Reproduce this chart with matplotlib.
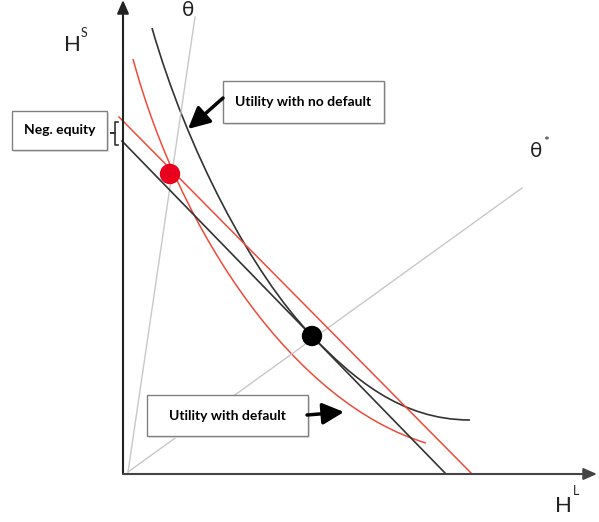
import matplotlib
matplotlib.use("Agg")
import matplotlib.pyplot as plt
from matplotlib.path import Path
import matplotlib.patches as mpatches

plt.rcParams['font.family'] = ['Lato', 'DejaVu Sans']

# diagram drawn in pixel units of the original picture (y grows downward)
axis_origin = (123, 474)
y_axis_top = (123, 0)
x_axis_end = (597, 474)

theta_ray = ([128, 195], [472, 17])
theta_star_ray = ([128, 522], [472, 188])

budget_no_default = ([122, 446], [141, 474])
budget_default = ([119, 472], [117, 474])

# cubic bezier control points of the two indifference curves
curve_no_default = [(152, 28), (187, 150), (252, 274), (312, 336),
                    (352, 377), (400, 420), (470, 420)]
curve_default = [(133, 59), (181, 236), (296, 404), (426, 443)]

point_default = (170, 174)
point_no_default = (312, 336)

boxes = [
    # x0, y0, x1, y1, label
    (12, 111, 107, 150, "Neg. equity"),
    (223, 81, 384, 123, "Utility with no default"),
    (147, 395, 308, 436, "Utility with default"),
]
arrows = [
    ((223, 98), (188, 129)),
    ((307, 415), (344, 412)),
]
bracket_x = [118, 115, 115, 111, 115, 115, 118]
bracket_y = [122, 122, 133, 133, 133, 145, 145]

fig = plt.figure(figsize=(5.99, 5.22), dpi=100)
ax = fig.add_axes([0, 0, 1, 1])
ax.set_xlim(0, 599)
ax.set_ylim(522, 0)
ax.axis('off')

# rays
ax.plot(*theta_ray, color='#c8c8c8', lw=1.0)
ax.plot(*theta_star_ray, color='#c8c8c8', lw=1.0)

# budget lines
ax.plot(*budget_no_default, color='#333333', lw=1.2)
ax.plot(*budget_default, color='#ef4b3a', lw=1.1)

# indifference curves
codes = [Path.MOVETO] + [Path.CURVE4] * (len(curve_no_default) - 1)
ax.add_patch(mpatches.PathPatch(Path(curve_no_default, codes), fill=False,
                                edgecolor='#333333', lw=1.2))
codes = [Path.MOVETO] + [Path.CURVE4] * (len(curve_default) - 1)
ax.add_patch(mpatches.PathPatch(Path(curve_default, codes), fill=False,
                                edgecolor='#ef4b3a', lw=1.1))

# tangency points
ax.add_patch(mpatches.Circle(point_default, 9.5, color='#e8001c', zorder=5))
ax.add_patch(mpatches.Circle(point_no_default, 9.5, color='black', zorder=5))

# axes with arrow heads
ax.annotate('', xy=y_axis_top, xytext=axis_origin,
            arrowprops=dict(arrowstyle='-|>,head_length=0.8,head_width=0.35',
                            lw=1.5, color='#222222', shrinkA=0, shrinkB=0,
                            mutation_scale=10))
ax.annotate('', xy=x_axis_end, xytext=axis_origin,
            arrowprops=dict(arrowstyle='-|>,head_length=0.8,head_width=0.35',
                            lw=1.5, color='#444444', shrinkA=0, shrinkB=0,
                            mutation_scale=10))

# axis labels
ax.text(72, 45, "H", fontsize=16, ha='center', va='center', color='#222222')
ax.text(84, 33, "S", fontsize=9, ha='center', va='center', color='#222222')
ax.text(563, 506, "H", fontsize=16, ha='center', va='center', color='#222222')
ax.text(576, 491, "L", fontsize=9, ha='center', va='center', color='#222222')
ax.text(188, 10, "θ", fontsize=15, ha='center', va='center', color='#222222')
ax.text(536, 151, "θ", fontsize=15, ha='center', va='center', color='#222222')
ax.text(546, 142, "*", fontsize=10, ha='center', va='center', color='#222222')

# boxes
for x0, y0, x1, y1, label in boxes:
    ax.add_patch(mpatches.Rectangle((x0 + 2, y0 + 2), x1 - x0, y1 - y0,
                                    facecolor='#e6e6e6', edgecolor='none',
                                    zorder=6))
    ax.add_patch(mpatches.Rectangle((x0, y0), x1 - x0, y1 - y0,
                                    facecolor='white', edgecolor='#808080',
                                    lw=1.0, zorder=7))
    ax.text((x0 + x1) / 2, (y0 + y1) / 2, label, fontsize=10,
            fontweight='bold', ha='center', va='center', zorder=8)

# pointer arrows
for start, end in arrows:
    ax.annotate('', xy=end, xytext=start,
                arrowprops=dict(arrowstyle='-|>,head_length=1.3,head_width=0.65',
                                lw=2.5, color='black', shrinkA=0, shrinkB=0,
                                mutation_scale=10), zorder=9)

# bracket for negative equity
ax.plot(bracket_x, bracket_y, color='#333333', lw=1.2)

fig.savefig("out.png", dpi=100)
